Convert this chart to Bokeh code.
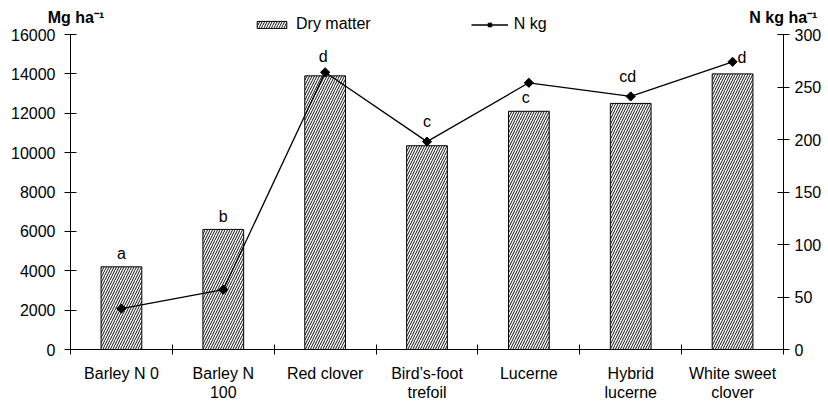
from bokeh.plotting import figure
from bokeh.models import (Range1d, LinearAxis, FixedTicker, Legend, LegendItem,
                          LabelSet, ColumnDataSource, NumeralTickFormatter)
from bokeh.embed import file_html
from bokeh.resources import INLINE
from bokeh.core.properties import value

# ---- data ----
categories = ["Barley N 0", "Barley N\n100", "Red clover", "Bird\u2019s-foot\ntrefoil",
              "Lucerne", "Hybrid\nlucerne", "White sweet\nclover"]
dry_matter = [4200, 6100, 13900, 10350, 12100, 12500, 14000]
n_kg = [39, 57, 264, 198, 254, 241, 274]
letters = ["a", "b", "d", "c", "c", "cd", "d"]
left_ticks = [0, 2000, 4000, 6000, 8000, 10000, 12000, 14000, 16000]
right_ticks = [0, 50, 100, 150, 200, 250, 300]
left_title = "Mg ha\u207b\u00b9"
right_title = "N kg ha\u207b\u00b9"

FONT = "Liberation Sans"
FS = "16px"

n = len(categories)
centers = [i + 0.5 for i in range(n)]
bounds = [i for i in range(n + 1)]

# frame reaches up into the legend row; axes are bounded to their tick span
AXIS_PX, FRAME_PX = 315.0, 334.0
head = FRAME_PX / AXIS_PX

p = figure(width=828, height=406, x_range=Range1d(0, n),
           y_range=Range1d(0, left_ticks[-1] * head),
           output_backend="svg", toolbar_location=None,
           min_border_left=70, min_border_right=45, min_border_top=15, min_border_bottom=57)
p.extra_y_ranges = {"n": Range1d(0, right_ticks[-1] * head)}
p.outline_line_color = None
p.xgrid.visible = False
p.ygrid.visible = False
p.background_fill_color = "white"

src = ColumnDataSource(dict(x=centers, dm=dry_matter, nk=n_kg))

bars = p.vbar(x="x", top="dm", width=0.4, source=src, fill_color="white",
              line_color="black", line_width=1,
              hatch_pattern="/", hatch_color="#111111", hatch_weight=1, hatch_scale=5)
line = p.line(x="x", y="nk", source=src, y_range_name="n", line_color="black", line_width=1.3)
pts = p.scatter(x="x", y="nk", source=src, y_range_name="n", marker="square", angle=0.785398,
                size=6.5, fill_color="black", line_color="black")

# letters
bar_idx = [0, 1]
mk_idx = [2, 3, 4, 5, 6]
bar_dy = [8, 7.5]
mk_dx = [-2, 0, -3, -3, 5]
mk_dy = [10, 15, -20, 14, -1]
mk_align = ["center", "center", "center", "center", "left"]
bsrc = ColumnDataSource(dict(x=[centers[i] for i in bar_idx], y=[dry_matter[i] for i in bar_idx],
                             t=[letters[i] for i in bar_idx], dy=bar_dy))
msrc = ColumnDataSource(dict(x=[centers[i] for i in mk_idx], y=[n_kg[i] for i in mk_idx],
                             t=[letters[i] for i in mk_idx], dx=mk_dx, dy=mk_dy, al=mk_align))
p.add_layout(LabelSet(x="x", y="y", text="t", source=bsrc, y_offset="dy", text_align="center",
                      text_baseline="alphabetic", text_font=value(FONT), text_font_size=FS,
                      text_color="black"))
p.add_layout(LabelSet(x="x", y="y", text="t", source=msrc, y_range_name="n", x_offset="dx",
                      y_offset="dy", text_align="al", text_baseline="alphabetic",
                      text_font=value(FONT), text_font_size=FS, text_color="black"))

# axes
xa = p.xaxis[0]
xa.ticker = FixedTicker(ticks=centers, minor_ticks=bounds)
xa.major_label_overrides = {c: lab for c, lab in zip(centers, categories)}
xa.major_tick_in = 0
xa.major_tick_out = 0
xa.minor_tick_in = 5
xa.minor_tick_out = 5
xa.major_label_standoff = 10
xa.major_label_text_line_height = 1.15

ya = p.yaxis[0]
ya.ticker = FixedTicker(ticks=left_ticks)
ya.formatter = NumeralTickFormatter(format="0")
ya.bounds = (left_ticks[0], left_ticks[-1])
ya.major_tick_in = 6
ya.major_tick_out = 6
ya.minor_tick_in = 0
ya.minor_tick_out = 0
ya.major_label_standoff = 9

ra = LinearAxis(y_range_name="n", ticker=FixedTicker(ticks=right_ticks),
                bounds=(right_ticks[0], right_ticks[-1]))
ra.major_tick_in = 6
ra.major_tick_out = 6
ra.minor_tick_in = 0
ra.minor_tick_out = 0
ra.major_label_standoff = 5
p.add_layout(ra, "right")

for ax in [xa, ya, ra]:
    ax.axis_line_color = "black"
    ax.axis_line_width = 1
    ax.major_tick_line_color = "black"
    ax.minor_tick_line_color = "black"
    ax.major_label_text_font = FONT
    ax.major_label_text_font_size = FS
    ax.major_label_text_color = "black"

legend = Legend(items=[LegendItem(label="Dry matter", renderers=[bars]),
                       LegendItem(label="N kg", renderers=[line, pts])],
                orientation="horizontal", location=(183, 316), glyph_width=37, glyph_height=9,
                label_standoff=6, spacing=100, padding=0, margin=0, label_height=18,
                border_line_color=None, background_fill_alpha=0,
                label_text_font=FONT, label_text_font_size=FS, label_text_color="black")
p.add_layout(legend)

# axis titles, drawn as labels of a bare axis above the frame
title_pos = [0.054, 6.999]
ta = LinearAxis(ticker=FixedTicker(ticks=title_pos, minor_ticks=[]),
                major_label_overrides={title_pos[0]: left_title, title_pos[1]: right_title})
ta.axis_line_color = None
ta.major_tick_line_color = None
ta.minor_tick_line_color = None
ta.major_tick_in = 0
ta.major_tick_out = 0
ta.minor_tick_in = 0
ta.minor_tick_out = 0
ta.major_label_standoff = -10
ta.major_label_text_font = FONT
ta.major_label_text_font_size = FS
ta.major_label_text_font_style = "bold"
ta.major_label_text_color = "black"
p.add_layout(ta, "above")

open("out.html", "w").write(file_html(p, INLINE))
